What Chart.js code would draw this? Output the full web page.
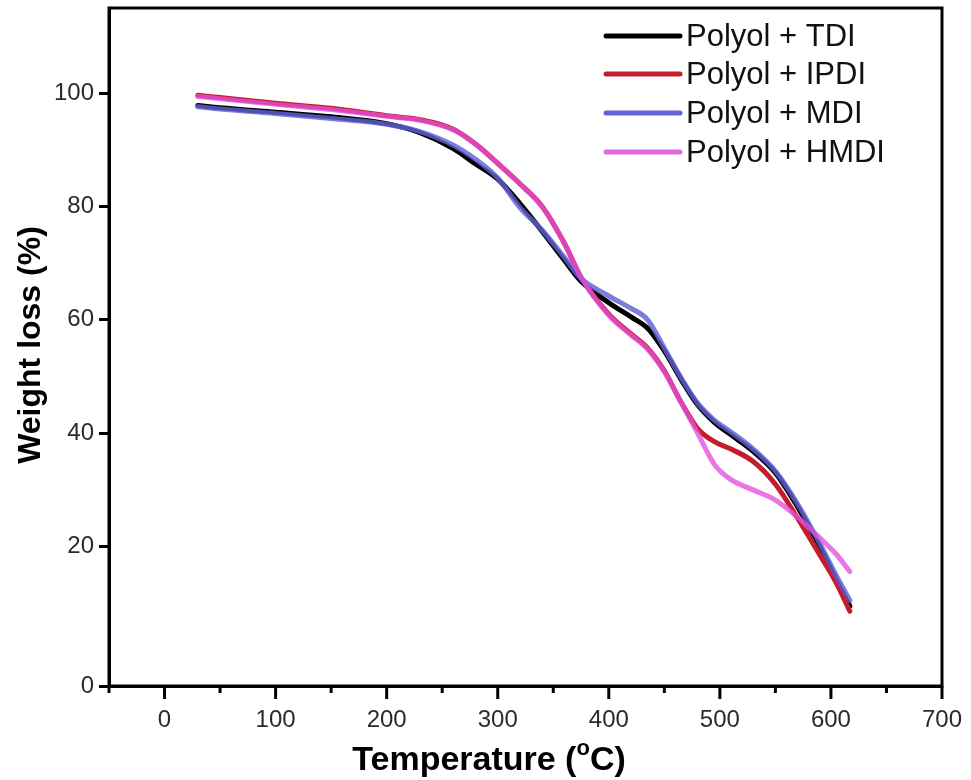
<!DOCTYPE html>
<html>
<head>
<meta charset="utf-8">
<script src="https://cdn.jsdelivr.net/npm/chart.js@4.4.0/dist/chart.umd.min.js"></script>
<style>
    html, body { margin: 0; padding: 0; background: #fff; }
</style>
</head>
<body>
<canvas id="tgaChart" width="971" height="780"></canvas>
<script>
// temperature grid (°C)
var temps = [30, 50, 100, 150, 200, 230, 260, 280, 300, 320, 340, 360, 375, 400, 420, 435, 450, 465, 480, 495, 510, 530, 550, 570, 590, 605, 617];

var tdiLoss  = [97.8, 97.4, 96.6, 95.8, 94.6, 93.0, 90.2, 87.5, 84.8, 80.5, 75.6, 70.5, 66.8, 63.0, 60.5, 58.5, 54.5, 49.5, 45.0, 41.9, 39.7, 36.8, 33.0, 27.0, 20.0, 14.0, 9.5];
var ipdiLoss = [99.6, 99.2, 98.2, 97.3, 96.0, 95.3, 93.6, 91.0, 87.6, 84.0, 80.0, 73.5, 67.5, 61.0, 57.5, 55.0, 51.0, 45.5, 40.8, 38.5, 37.2, 35.0, 31.0, 25.0, 18.5, 13.5, 8.6];
var mdiLoss  = [97.6, 97.2, 96.4, 95.5, 94.5, 93.2, 90.8, 88.3, 85.0, 79.8, 75.8, 71.0, 67.3, 64.2, 62.0, 60.0, 55.0, 49.8, 45.3, 42.3, 40.2, 37.2, 33.3, 27.5, 20.5, 14.8, 10.5];
var hmdiLoss = [99.4, 99.0, 98.0, 97.1, 95.9, 95.2, 93.5, 91.0, 87.6, 84.0, 80.0, 73.5, 67.5, 60.8, 57.3, 54.8, 50.8, 45.5, 40.0, 34.5, 31.8, 30.0, 28.2, 25.2, 21.5, 18.6, 15.6];

var seriesNames = ['Polyol + TDI', 'Polyol + IPDI', 'Polyol + MDI', 'Polyol + HMDI'];
var xTickValues = [0, 100, 200, 300, 400, 500, 600, 700];
var yTickValues = [0, 20, 40, 60, 80, 100];

// the bottom of the original axis sits a bit below 0
var yBottom = -4.6;
var yTop = 115;

function toPoints(values) {
    var pts = [];
    for (var i = 0; i < temps.length; i++) {
        pts.push({x: temps[i], y: values[i]});
    }
    return pts;
}

var lineColors = ['#000000', '#c41e2e', '#6464d8', '#e268de'];
var drawColors = ['#000000', '#c41e2e', 'rgba(96,96,214,0.82)', 'rgba(228,80,220,0.78)'];

var frameAndText = {
    id: 'frameAndText',
    afterDraw: function (chart) {
        var ctx = chart.ctx;
        var area = chart.chartArea;
        var xs = chart.scales.x;

        ctx.save();
        ctx.strokeStyle = '#000';
        ctx.lineWidth = 3;
        ctx.strokeRect(area.left, area.top, area.right - area.left, area.bottom - area.top);

        // x ticks, major and minor
        for (var v = -50; v <= 700; v += 50) {
            var px = xs.getPixelForValue(v);
            var len = (v % 100 === 0) ? 13 : 7;
            ctx.beginPath();
            ctx.moveTo(px, area.bottom);
            ctx.lineTo(px, area.bottom + len);
            ctx.stroke();
        }

        // legend
        ctx.font = '31px "Liberation Sans", Arial, sans-serif';
        ctx.textBaseline = 'middle';
        ctx.textAlign = 'left';
        var rowsY = [36, 74, 113, 152];
        for (var i = 0; i < seriesNames.length; i++) {
            ctx.strokeStyle = lineColors[i];
            ctx.lineWidth = 5;
            ctx.lineCap = 'round';
            ctx.beginPath();
            ctx.moveTo(606, rowsY[i]);
            ctx.lineTo(680, rowsY[i]);
            ctx.stroke();
            ctx.fillStyle = '#111';
            ctx.fillText(seriesNames[i], 686, rowsY[i] + 1);
        }

        // axis titles
        ctx.fillStyle = '#000';
        ctx.textAlign = 'left';
        ctx.textBaseline = 'alphabetic';
        var part1 = 'Temperature (';
        var part3 = 'C)';
        ctx.font = 'bold 22px "Liberation Sans", Arial, sans-serif';
        var w2 = ctx.measureText('o').width;
        ctx.font = 'bold 34px "Liberation Sans", Arial, sans-serif';
        var w1 = ctx.measureText(part1).width;
        var w3 = ctx.measureText(part3).width;
        var startX = 489 - (w1 + w2 + w3) / 2;
        var baseY = 770;
        ctx.fillText(part1, startX, baseY);
        ctx.font = 'bold 22px "Liberation Sans", Arial, sans-serif';
        ctx.fillText('o', startX + w1, baseY - 15);
        ctx.font = 'bold 34px "Liberation Sans", Arial, sans-serif';
        ctx.fillText(part3, startX + w1 + w2, baseY);

        ctx.font = 'bold 32px "Liberation Sans", Arial, sans-serif';
        ctx.translate(31, 345);
        ctx.rotate(-Math.PI / 2);
        ctx.textAlign = 'center';
        ctx.textBaseline = 'middle';
        ctx.fillText('Weight loss (%)', 0, 0);
        ctx.restore();
    }
};

var datasets = [];
for (var i = 0; i < seriesNames.length; i++) {
    datasets.push({
        label: seriesNames[i],
        data: toPoints([tdiLoss, ipdiLoss, mdiLoss, hmdiLoss][i]),
        borderColor: drawColors[i],
        borderWidth: 5,
        pointRadius: 0,
        fill: false,
        cubicInterpolationMode: 'monotone',
        borderCapStyle: 'round',
        order: 4 - i
    });
}

var ctx = document.getElementById('tgaChart').getContext('2d');
new Chart(ctx, {
    type: 'line',
    data: {datasets: datasets},
    plugins: [frameAndText],
    options: {
        responsive: false,
        devicePixelRatio: 1,
        animation: false,
        layout: {padding: {top: 8, right: 29, left: 0, bottom: 0}},
        plugins: {
            legend: {display: false},
            tooltip: {enabled: false}
        },
        scales: {
            x: {
                type: 'linear',
                min: -50,
                max: 700,
                grid: {display: false},
                border: {display: true, color: '#000', width: 3},
                afterBuildTicks: function (scale) {
                    scale.ticks = xTickValues.map(function (v) { return {value: v}; });
                },
                afterFit: function (scale) {
                    scale.height = 94;
                    scale.paddingLeft = 0;
                    scale.paddingRight = 0;
                },
                ticks: {
                    color: '#2b2b2b',
                    padding: 12,
                    maxRotation: 0,
                    font: {family: '"Liberation Sans", Arial, sans-serif', size: 24}
                }
            },
            y: {
                type: 'linear',
                min: yBottom,
                max: yTop,
                grid: {drawOnChartArea: false, color: '#000', lineWidth: 3, tickLength: 10},
                border: {display: true, color: '#000', width: 3},
                afterBuildTicks: function (scale) {
                    scale.ticks = yTickValues.map(function (v) {
                        return {value: v === 0 ? yBottom : v};
                    });
                },
                afterFit: function (scale) {
                    scale.width = 109;
                    scale.paddingTop = 0;
                    scale.paddingBottom = 0;
                },
                ticks: {
                    color: '#2b2b2b',
                    padding: 5,
                    font: {family: '"Liberation Sans", Arial, sans-serif', size: 24},
                    callback: function (value) {
                        return value === yBottom ? '0' : value;
                    }
                }
            }
        }
    }
});
</script>
</body>
</html>
